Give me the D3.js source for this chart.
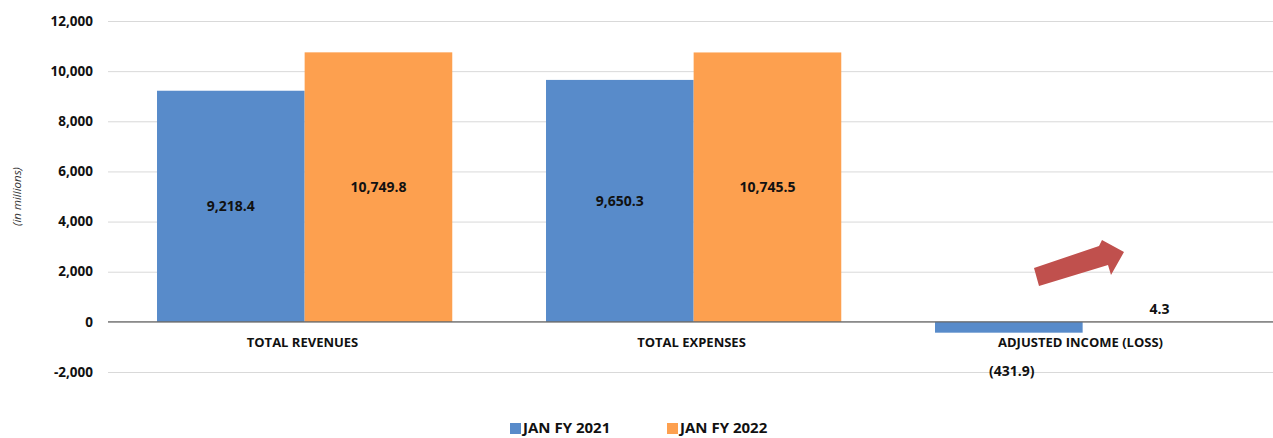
<!DOCTYPE html>
<html>
<head>
<meta charset="utf-8">
<script src="https://cdnjs.cloudflare.com/ajax/libs/d3/7.8.5/d3.min.js"></script>
<style>
  body { margin: 0; background: #fff; font-family: "Open Sans", "Liberation Sans", sans-serif; }
  .grid line { stroke: #d9d9d9; }
  .grid path { display: none; }
</style>
</head>
<body>
<svg id="chart"></svg>
<script>
var categories = ["TOTAL REVENUES", "TOTAL EXPENSES", "ADJUSTED INCOME (LOSS)"];
var seriesNames = ["JAN FY 2021", "JAN FY 2022"];
var fy2021 = [9218.4, 9650.3, -431.9];
var fy2022 = [10749.8, 10745.5, 4.3];
var yTicks = [-2000, 0, 2000, 4000, 6000, 8000, 10000, 12000];
var colors = ["#588bca", "#fda04f"];

var w = 1273, h = 438;
var margin = { top: 21, right: -2, bottom: 66, left: 108 };

var svg = d3.select("#chart").attr("width", w).attr("height", h);

var y = d3.scaleLinear().domain([-2000, 12000]).range([372, 21]);
var x0 = d3.scaleBand().domain(categories).range([margin.left, w - margin.right]);
var x1 = d3.scaleBand().domain(seriesNames)
  .range([x0.bandwidth() * 0.126, x0.bandwidth() * 0.885]);

// gridlines
svg.append("g")
  .attr("class", "grid")
  .attr("transform", "translate(" + margin.left + ",0)")
  .call(d3.axisLeft(y).tickValues(yTicks).tickSize(-(w - margin.left)).tickFormat(""));

// tick labels (hyphen minus, like the original)
svg.append("g")
  .selectAll("text")
  .data(yTicks)
  .enter()
  .append("text")
  .attr("x", 93)
  .attr("y", function(d) { return y(d); })
  .attr("dy", "0.35em")
  .attr("text-anchor", "end")
  .style("font-weight", "bold")
  .style("font-size", "13.5px")
  .style("fill", "#111")
  .text(function(d) { return (d < 0 ? "-" : "") + d3.format(",")(Math.abs(d)); });

// y title
svg.append("text")
  .attr("transform", "translate(21," + y(5000) + ") rotate(-90)")
  .attr("text-anchor", "middle")
  .style("font-style", "italic")
  .style("font-size", "11.5px")
  .style("fill", "#333")
  .text("(in millions)");

var rows = categories.map(function(c, i) {
  return { cat: c, vals: [fy2021[i], fy2022[i]] };
});

var groups = svg.selectAll(".cat")
  .data(rows)
  .enter()
  .append("g")
  .attr("transform", function(d) { return "translate(" + x0(d.cat) + ",0)"; });

function pairs(d) {
  return d.vals.map(function(v, j) { return { s: seriesNames[j], v: v, j: j }; });
}

groups.selectAll("rect")
  .data(pairs)
  .enter()
  .append("rect")
  .attr("x", function(d) { return x1(d.s); })
  .attr("width", x1.bandwidth())
  .attr("y", function(d) { return y(Math.max(0, d.v)); })
  .attr("height", function(d) { return Math.abs(y(d.v) - y(0)); })
  .attr("fill", function(d) { return colors[d.j]; });

// value labels
groups.selectAll(".lbl")
  .data(pairs)
  .enter()
  .append("text")
  .attr("class", "lbl")
  .attr("x", function(d) { return x1(d.s) + x1.bandwidth() / 2 + (Math.abs(d.v) < 1000 ? 3 : 0); })
  .attr("y", function(d) {
    if (d.v < 0) return y(-1950);
    if (d.v < 1000) return y(520);
    return y(d.v / 2);
  })
  .attr("dy", "0.35em")
  .attr("text-anchor", "middle")
  .style("font-weight", "bold")
  .style("font-size", "14px")
  .style("fill", "#111")
  .text(function(d) {
    var s = d3.format(",.1f")(Math.abs(d.v));
    return d.v < 0 ? "(" + s + ")" : s;
  });

// zero line
svg.append("line")
  .attr("x1", margin.left).attr("x2", w)
  .attr("y1", y(0)).attr("y2", y(0))
  .attr("stroke", "#666").attr("stroke-width", 1.3);

// category labels
svg.append("g")
  .selectAll("text")
  .data(categories)
  .enter()
  .append("text")
  .attr("x", function(d) { return x0(d) + x0.bandwidth() / 2; })
  .attr("y", 347)
  .attr("text-anchor", "middle")
  .style("font-weight", "bold")
  .style("font-size", "13px")
  .style("fill", "#111")
  .text(function(d) { return d; });

// red arrow annotation
svg.append("path")
  .attr("d", "M1034,268 L1099,246 L1102,240 L1124,252 L1111,275 L1108,265 L1039,286 Z")
  .attr("fill", "#c0504d");

// legend
var legend = svg.append("g");
var lx = [510, 667];
seriesNames.forEach(function(s, i) {
  legend.append("rect")
    .attr("x", lx[i]).attr("y", 423)
    .attr("width", 11).attr("height", 11)
    .attr("fill", colors[i]);
  legend.append("text")
    .attr("x", lx[i] + 13).attr("y", 428)
    .attr("dy", "0.35em")
    .style("font-weight", "bold")
    .style("font-size", "15px")
    .style("fill", "#111")
    .text(s);
});
</script>
</body>
</html>
